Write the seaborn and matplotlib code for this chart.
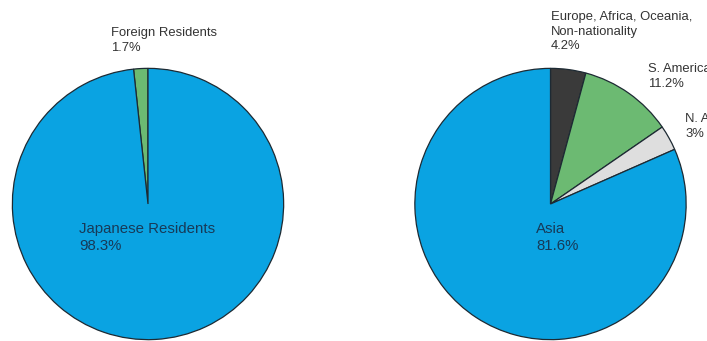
import matplotlib
matplotlib.use("Agg")
import matplotlib.pyplot as plt
import seaborn as sns

sns.set_theme(style="white")
plt.rcParams['font.family'] = ['Liberation Sans', 'DejaVu Sans']

# Data
left_labels = ["Foreign Residents", "Japanese Residents"]
left_values = [1.7, 98.3]
right_labels = ["Europe, Africa, Oceania,\nNon-nationality", "S. America", "N. America", "Asia"]
right_values = [4.2, 11.2, 3.0, 81.6]

BLUE = "#0aa3e2"
GREEN = "#6cba72"
DARK = "#3a3a3a"
LIGHT = "#dedede"
EDGE = "#1d2a33"
TXT_OUT = "#333333"
TXT_IN = "#173a58"

W, H = 707, 341
fig = plt.figure(figsize=(W / 100, H / 100), dpi=100)

def add_pie_axes(cx, cy, r):
    ax = fig.add_axes([(cx - r) / W, (H - cy - r) / H, 2 * r / W, 2 * r / H])
    return ax

wedge_kw = dict(edgecolor=EDGE, linewidth=0.9)

ax1 = add_pie_axes(148, 204, 137)
ax1.pie(left_values, colors=[GREEN, BLUE], startangle=90, counterclock=True,
        wedgeprops=wedge_kw, radius=1)
ax1.set_xlim(-1.01, 1.01); ax1.set_ylim(-1.01, 1.01)
ax1.axis("off")

ax2 = add_pie_axes(550.5, 204, 137)
ax2.pie(right_values, colors=[DARK, GREEN, LIGHT, BLUE], startangle=90, counterclock=False,
        wedgeprops=wedge_kw, radius=1)
ax2.set_xlim(-1.01, 1.01); ax2.set_ylim(-1.01, 1.01)
ax2.axis("off")

def ftext(x, y, s, size, color):
    fig.text(x / W, 1 - y / H, s, fontsize=size, color=color, ha="left", va="top",
             linespacing=1.28)

ftext(111, 27, f"{left_labels[0]}\n{left_values[0]}%", 9.4, TXT_OUT)
ftext(79, 222, f"{left_labels[1]}\n{left_values[1]}%", 10.8, TXT_IN)

ftext(551, 11, f"{right_labels[0]}\n{right_values[0]}%", 9.4, TXT_OUT)
ftext(648, 63, f"{right_labels[1]}\n{right_values[1]}%", 9.4, TXT_OUT)
ftext(685, 113, f"{right_labels[2]}\n{right_values[2]:g}%", 9.4, TXT_OUT)
ftext(536, 222, f"{right_labels[3]}\n{right_values[3]}%", 10.8, TXT_IN)

fig.savefig("out.png", dpi=100)
